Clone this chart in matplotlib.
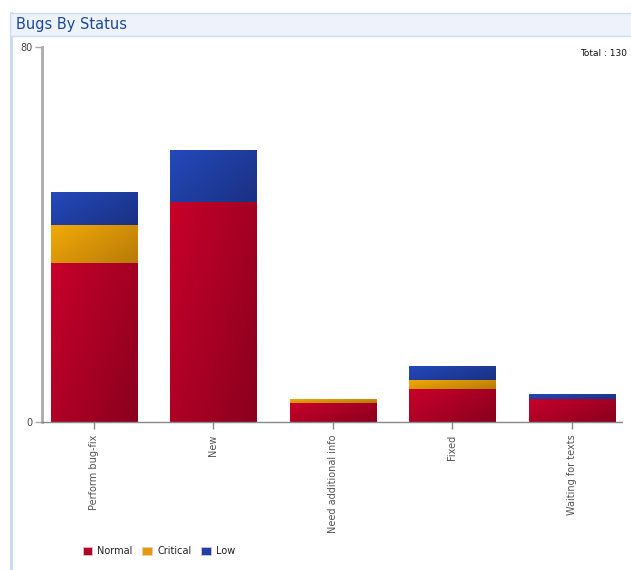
import matplotlib
matplotlib.use("Agg")
import matplotlib.pyplot as plt
import numpy as np
from matplotlib.colors import LinearSegmentedColormap
from matplotlib.patches import Rectangle

### data
statuses = ['Perform bug-fix', 'New', 'Need additional info', 'Fixed', 'Waiting for texts']
normal = [34, 47, 4, 7, 5]
critical = [8, 0, 1, 2, 0]
low = [7, 11, 0, 3, 1]
series_names = ['Normal', 'Critical', 'Low']

# light (top-left) -> dark (bottom-right) for each series
grads = {'Normal': ('#c8002a', '#8a001e'),
         'Critical': ('#f2aa08', '#b87a08'),
         'Low': ('#2449bb', '#1a3182')}
solid = {'Normal': '#b0002a', 'Critical': '#e39b0a', 'Low': '#1f3ea6'}

W, H = 631, 570
fig = plt.figure(figsize=(W / 100, H / 100), dpi=100)

### panel frame + title bar
fig.patches.append(Rectangle((10 / W, (H - 36) / H), 1, 23 / H, transform=fig.transFigure,
                             facecolor='#edf2fb', edgecolor='#cfdcf0', lw=1, zorder=-1))
fig.lines.append(plt.Line2D([10.5 / W, 10.5 / W], [0, (H - 13) / H], transform=fig.transFigure,
                            color='#c9d8f0', lw=2, zorder=-1))
fig.text(16 / W, (H - 24) / H, 'Bugs By Status', color='#1c4a9c', fontsize=10.5,
         va='center', ha='left')
fig.text(627 / W, (H - 53) / H, 'Total : 130', fontsize=6.5, ha='right', va='center',
         color='#111111')

### axes
ax = fig.add_axes([42 / W, (H - 422) / H, (622 - 42) / W, (422 - 47) / H])
ax.set_zorder(2)
for s in ['top', 'right']:
    ax.spines[s].set_visible(False)
ax.spines['left'].set_color('#aaaaaa')
ax.spines['left'].set_linewidth(2)
ax.spines['bottom'].set_color('#888888')
ax.spines['bottom'].set_linewidth(1)
ax.set_yticks([0, 80])
ax.set_yticklabels(['0', '80'], fontsize=7, color='#444444')
ax.tick_params(axis='y', length=5, width=1, color='#aaaaaa', pad=2)
x = np.arange(len(statuses))
ax.set_xticks(x)
ax.set_xticklabels(statuses, rotation=90, fontsize=7, color='#555555', va='top')
ax.tick_params(axis='x', length=5, width=1, color='#888888', pad=4)

yy, xx = np.mgrid[0:1:50j, 0:1:50j]
grad_img = (xx * 0.6 + yy * 0.4)

bw = 0.72
bottom = np.zeros(len(statuses))
for name, vals in zip(series_names, [normal, critical, low]):
    vals = np.array(vals, dtype=float)
    bars = ax.bar(x, vals, bw, bottom=bottom, color=solid[name],
                  edgecolor='#e6c9d0', linewidth=0.5, label=name, zorder=2)
    cmap = LinearSegmentedColormap.from_list(name, grads[name])
    for b in bars:
        if b.get_height() <= 0:
            continue
        x0, y0 = b.get_x(), b.get_y()
        im = ax.imshow(grad_img, cmap=cmap, origin='upper', aspect='auto',
                       extent=[x0, x0 + b.get_width(), y0, y0 + b.get_height()],
                       zorder=2.5, interpolation='bilinear')
        im.set_clip_path(b)
    bottom += vals
ax.set_xlim(-0.435, 4.42)
ax.set_ylim(0, 80)

leg = fig.legend(loc='lower left', bbox_to_anchor=(74 / W, 5 / H), ncol=3,
                 frameon=False, fontsize=7, handlelength=1.0, handleheight=1.0,
                 columnspacing=1.0, handletextpad=0.5)
for t in leg.get_texts():
    t.set_color('#222222')

fig.savefig('out.png', dpi=100)
